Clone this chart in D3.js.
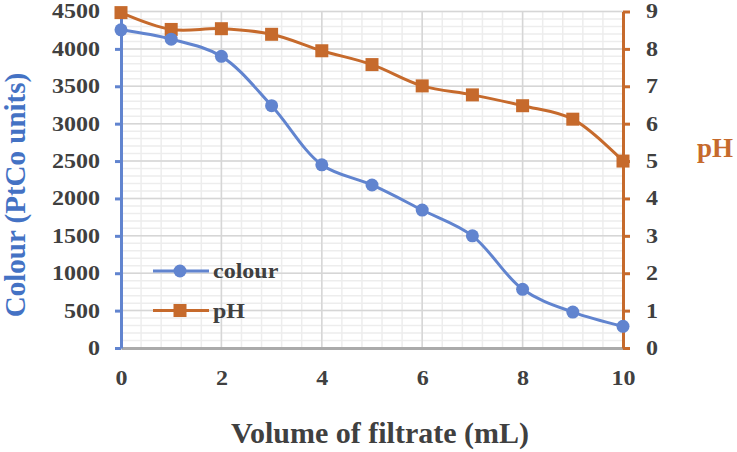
<!DOCTYPE html>
<html>
<head>
<meta charset="utf-8">
<script src="https://cdn.jsdelivr.net/npm/d3@7"></script>
<style>
  body { margin: 0; background: #fff; }
  svg text { font-family: "Liberation Serif", "Times New Roman", serif; font-weight: bold; }
</style>
</head>
<body>
<div id="chart"></div>
<script>
// data
var volume = [0, 1, 2, 3, 4, 5, 6, 7, 8, 9, 10];
var colour = [4255, 4130, 3900, 3240, 2450, 2180, 1845, 1500, 785, 480, 290];
var ph = [8.97, 8.52, 8.54, 8.39, 7.95, 7.58, 7.01, 6.77, 6.48, 6.12, 5.0];
var xTicks = [0, 2, 4, 6, 8, 10];
var leftTicks = [0, 500, 1000, 1500, 2000, 2500, 3000, 3500, 4000, 4500];
var rightTicks = [0, 1, 2, 3, 4, 5, 6, 7, 8, 9];

var blue = "#6184cf";
var orange = "#c66a2c";
var labelColor = "#404040";

var W = 737, H = 452;
var margin = { top: 11.5, right: 114, bottom: 104, left: 121 };
var w = W - margin.left - margin.right;
var h = H - margin.top - margin.bottom;

// the small labels in the picture are drawn a bit wide
function widen(sel, k) {
  sel.each(function () {
    var len = this.getComputedTextLength();
    d3.select(this).attr("textLength", len * k).attr("lengthAdjust", "spacingAndGlyphs");
  });
}

var svg = d3.select("#chart").append("svg")
  .attr("width", W).attr("height", H);

var g = svg.append("g")
  .attr("transform", "translate(" + margin.left + "," + margin.top + ")");

var x = d3.scaleLinear().domain([0, 10]).range([0, w]);
var yL = d3.scaleLinear().domain([0, 4500]).range([h, 0]);
var yR = d3.scaleLinear().domain([0, 9]).range([h, 0]);

// minor gridlines
g.append("g").selectAll("line")
  .data(d3.range(0, 10.001, 0.4))
  .join("line")
  .attr("x1", d => x(d)).attr("x2", d => x(d))
  .attr("y1", 0).attr("y2", h)
  .attr("stroke", "#ededed").attr("stroke-width", 1.5);
g.append("g").selectAll("line")
  .data(d3.range(0, 4501, 100))
  .join("line")
  .attr("x1", 0).attr("x2", w)
  .attr("y1", d => yL(d)).attr("y2", d => yL(d))
  .attr("stroke", "#ededed").attr("stroke-width", 1.5);

// major gridlines
g.append("g").selectAll("line")
  .data(xTicks)
  .join("line")
  .attr("x1", d => x(d)).attr("x2", d => x(d))
  .attr("y1", 0).attr("y2", h)
  .attr("stroke", "#d6d6d6").attr("stroke-width", 1.5);
g.append("g").selectAll("line")
  .data(leftTicks)
  .join("line")
  .attr("x1", 0).attr("x2", w)
  .attr("y1", d => yL(d)).attr("y2", d => yL(d))
  .attr("stroke", "#d6d6d6").attr("stroke-width", 1.5);

// bottom axis
var xAxis = d3.axisBottom(x).tickValues(xTicks).tickSize(0).tickPadding(23).tickFormat(d3.format("d"));
var gx = g.append("g").attr("transform", "translate(0," + h + ")").call(xAxis);
gx.select(".domain").attr("stroke", "#aaaaaa").attr("stroke-width", 3);
gx.selectAll("text").attr("fill", labelColor).style("font-size", "20px");
widen(gx.selectAll("text"), 1.2);

// left axis
var yAxisL = d3.axisLeft(yL).tickValues(leftTicks).tickSize(6).tickPadding(15)
  .tickSizeOuter(0).tickFormat(d3.format("d"));
var gl = g.append("g").call(yAxisL);
gl.select(".domain").attr("stroke", blue).attr("stroke-width", 3);
gl.selectAll(".tick line").attr("stroke", blue).attr("stroke-width", 3);
gl.selectAll("text").attr("fill", labelColor).style("font-size", "20px");
widen(gl.selectAll("text"), 1.2);

// right axis
var yAxisR = d3.axisRight(yR).tickValues(rightTicks).tickSize(7).tickPadding(16)
  .tickSizeOuter(0).tickFormat(d3.format("d"));
var gr = g.append("g").attr("transform", "translate(" + w + ",0)").call(yAxisR);
gr.select(".domain").attr("stroke", orange).attr("stroke-width", 3);
gr.selectAll(".tick line").attr("stroke", orange).attr("stroke-width", 3);
gr.selectAll("text").attr("fill", labelColor).style("font-size", "20px");
widen(gr.selectAll("text"), 1.2);

// lines
var colourLine = d3.line()
  .x((d, i) => x(volume[i]))
  .y(d => yL(d))
  .curve(d3.curveCatmullRom.alpha(0.5));
var phLine = d3.line()
  .x((d, i) => x(volume[i]))
  .y(d => yR(d))
  .curve(d3.curveCatmullRom.alpha(0.5));

g.append("path").datum(ph)
  .attr("d", phLine)
  .attr("fill", "none").attr("stroke", orange).attr("stroke-width", 3);
g.append("g").selectAll("rect")
  .data(ph)
  .join("rect")
  .attr("x", (d, i) => x(volume[i]) - 6.5)
  .attr("y", d => yR(d) - 6.5)
  .attr("width", 13).attr("height", 13)
  .attr("fill", orange);

g.append("path").datum(colour)
  .attr("d", colourLine)
  .attr("fill", "none").attr("stroke", blue).attr("stroke-width", 3);
g.append("g").selectAll("circle")
  .data(colour)
  .join("circle")
  .attr("cx", (d, i) => x(volume[i]))
  .attr("cy", d => yL(d))
  .attr("r", 6.5)
  .attr("fill", blue);

// legend
var legend = svg.append("g").attr("transform", "translate(153,271)");
var items = [
  { name: "colour", color: blue, shape: "circle" },
  { name: "pH", color: orange, shape: "square" }
];
items.forEach(function (it, i) {
  var row = legend.append("g").attr("transform", "translate(0," + i * 39.5 + ")");
  row.append("line").attr("x1", 0).attr("x2", 56)
    .attr("stroke", it.color).attr("stroke-width", 3);
  if (it.shape === "circle") {
    row.append("circle").attr("cx", 27).attr("r", 6.5).attr("fill", it.color);
  } else {
    row.append("rect").attr("x", 20.5).attr("y", -6.5).attr("width", 13).attr("height", 13).attr("fill", it.color);
  }
  var t = row.append("text").attr("x", 60).attr("y", 7)
    .attr("fill", labelColor).style("font-size", "20px").text(it.name);
  widen(t, 1.2);
});

// axis titles
svg.append("text")
  .attr("transform", "translate(25,195) rotate(-90)")
  .attr("text-anchor", "middle")
  .attr("fill", "#4472c4")
  .style("font-size", "29px")
  .text("Colour (PtCo units)");

svg.append("text")
  .attr("x", 715).attr("y", 157)
  .attr("text-anchor", "middle")
  .attr("fill", orange)
  .style("font-size", "27px")
  .text("pH");

svg.append("text")
  .attr("x", 380).attr("y", 443)
  .attr("text-anchor", "middle")
  .attr("fill", labelColor)
  .style("font-size", "30px")
  .text("Volume of filtrate (mL)");
</script>
</body>
</html>
